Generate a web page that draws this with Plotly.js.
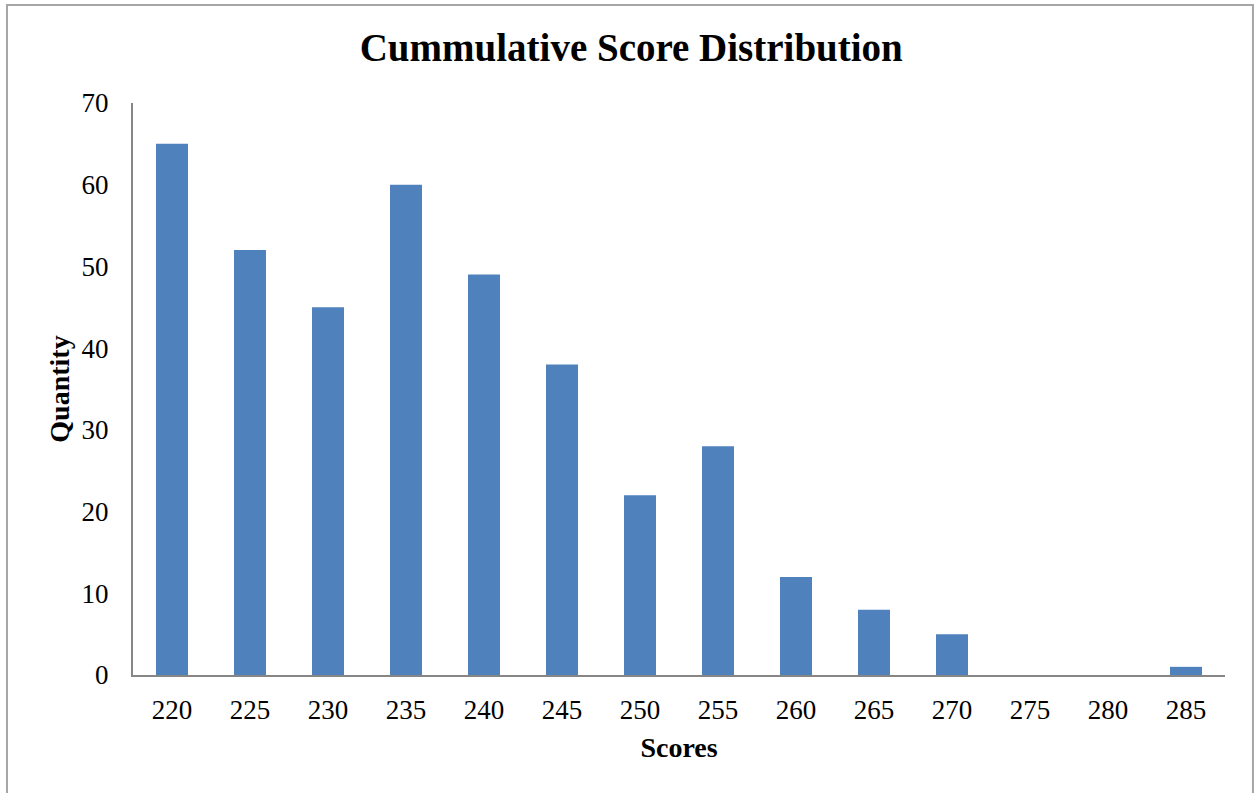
<!DOCTYPE html>
<html>
<head>
<meta charset="utf-8">
<script src="https://cdn.plot.ly/plotly-3.0.1.min.js"></script>
<style>
  html, body { margin: 0; padding: 0; background: #ffffff; }
  #chart { width: 1255px; height: 793px; }
</style>
</head>
<body>
<div id="chart"></div>
<script>
const scores = ['220', '225', '230', '235', '240', '245', '250', '255', '260', '265', '270', '275', '280', '285'];
const quantities = [65, 52, 45, 60, 49, 38, 22, 28, 12, 8, 5, 0, 0, 1];
const yTicks = [0, 10, 20, 30, 40, 50, 60, 70];

const serif = '"Liberation Serif", "DejaVu Serif", serif';

const trace = {
  type: 'bar',
  x: scores,
  y: quantities,
  marker: { color: '#4f81bd', line: { width: 0 } },
  hoverinfo: 'x+y'
};

const layout = {
  width: 1255,
  height: 793,
  paper_bgcolor: '#ffffff',
  plot_bgcolor: '#ffffff',
  margin: { l: 133, r: 30, t: 103, b: 118, pad: 0 },
  bargap: 0.59,
  showlegend: false,
  font: { family: serif, color: '#000000', size: 27 },
  title: {
    text: '<b>Cummulative Score Distribution</b>',
    font: { family: serif, size: 39, color: '#000000' },
    x: 0.503, xanchor: 'center', xref: 'container',
    y: 0.94, yanchor: 'middle', yref: 'container'
  },
  xaxis: {
    type: 'category',
    range: [-0.5, 13.5],
    showgrid: false,
    zeroline: false,
    showline: true,
    linecolor: '#868686',
    linewidth: 2,
    ticks: '',
    ticklabelstandoff: 10,
    tickfont: { family: serif, size: 27, color: '#000000' },
    title: { text: '<b>Scores</b>', font: { family: serif, size: 28, color: '#000000' }, standoff: 13 }
  },
  yaxis: {
    range: [0, 70],
    tickvals: yTicks,
    ticktext: yTicks.map(String),
    showgrid: false,
    zeroline: false,
    showline: true,
    linecolor: '#868686',
    linewidth: 2,
    ticks: '',
    ticklabelstandoff: 17,
    tickfont: { family: serif, size: 27, color: '#000000' },
    title: { text: '<b>Quantity</b>', font: { family: serif, size: 28, color: '#000000' }, standoff: 4 }
  },
  shapes: [
    {
      type: 'path', xref: 'paper', yref: 'paper',
      path: 'M -0.1154 -0.25 L -0.1154 1.1713 L 1.0256 1.1713 L 1.0256 -0.25',
      line: { color: '#a6a6a6', width: 2 },
      fillcolor: 'rgba(0,0,0,0)'
    }
  ]
};

Plotly.newPlot('chart', [trace], layout, { displayModeBar: false, staticPlot: true });
</script>
</body>
</html>
